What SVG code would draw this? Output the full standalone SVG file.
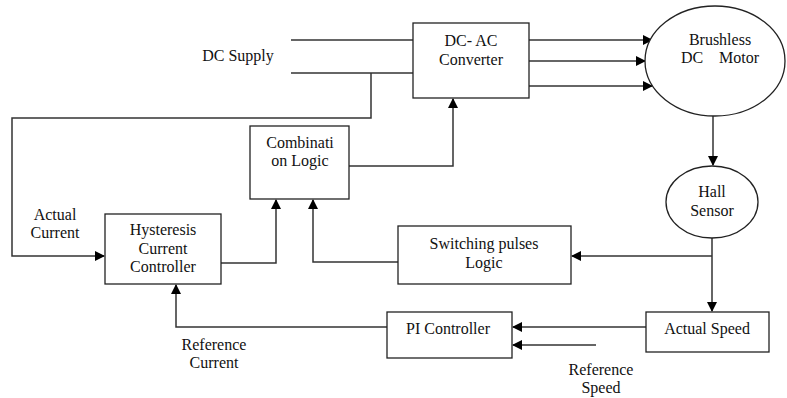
<svg xmlns="http://www.w3.org/2000/svg" width="787" height="398" viewBox="0 0 787 398">
<style>
.box{fill:#fff;stroke:#222;stroke-width:1.3}
.ln{fill:none;stroke:#333;stroke-width:1.5}
.t{font-family:'Liberation Serif','DejaVu Serif','Times New Roman',serif;font-size:16px;fill:#111;text-anchor:middle}
</style>
<defs>
<marker id="ah" markerWidth="10" markerHeight="10" refX="9" refY="5" orient="auto" markerUnits="userSpaceOnUse">
<path d="M0,0 L10,5 L0,10 Z" fill="#000"/>
</marker>
</defs>
<rect width="787" height="398" fill="#fff"/>
<g id="connectors">
<path class="ln" d="M291,40 H413"/>
<path class="ln" d="M291,73 H413"/>
<path class="ln" d="M371,73 V118 H12 V256 H104" marker-end="url(#ah)"/>
<path class="ln" d="M529,40 H652" marker-end="url(#ah)"/>
<path class="ln" d="M529,61 H645" marker-end="url(#ah)"/>
<path class="ln" d="M529,86 H652" marker-end="url(#ah)"/>
<path class="ln" d="M713,116 V165" marker-end="url(#ah)"/>
<path class="ln" d="M712,238 V311" marker-end="url(#ah)"/>
<path class="ln" d="M712,256 H572" marker-end="url(#ah)"/>
<path class="ln" d="M349,166 H453 V99" marker-end="url(#ah)"/>
<path class="ln" d="M221,263 H276 V200" marker-end="url(#ah)"/>
<path class="ln" d="M398,262 H313 V200" marker-end="url(#ah)"/>
<path class="ln" d="M646,327 H513" marker-end="url(#ah)"/>
<path class="ln" d="M596,345 H513" marker-end="url(#ah)"/>
<path class="ln" d="M387,327 H176 V285" marker-end="url(#ah)"/>
</g>
<g class="t">
<g id="dc-supply-label"><text x="238" y="61">DC Supply</text></g>
<g id="actual-current-label"><text x="55" y="220">Actual</text><text x="55" y="238">Current</text></g>
<g id="converter"><rect class="box" x="413" y="23" width="116" height="75"/><text x="471" y="46">DC- AC</text><text x="471" y="65">Converter</text></g>
<g id="motor"><ellipse class="box" cx="715" cy="61" rx="70" ry="55"/><text x="720" y="45">Brushless</text><text x="720" y="63" xml:space="preserve">DC    Motor</text></g>
<g id="hall"><ellipse class="box" cx="712" cy="202" rx="46" ry="36"/><text x="712" y="197">Hall</text><text x="712" y="216">Sensor</text></g>
<g id="combination"><rect class="box" x="250" y="126" width="99" height="73"/><text x="300" y="148">Combinati</text><text x="300" y="166">on Logic</text></g>
<g id="hysteresis"><rect class="box" x="105" y="214" width="116" height="70"/><text x="163" y="235">Hysteresis</text><text x="163" y="254">Current</text><text x="163" y="272">Controller</text></g>
<g id="switching"><rect class="box" x="398" y="226" width="173" height="58"/><text x="484" y="249">Switching pulses</text><text x="484" y="268">Logic</text></g>
<g id="pi"><rect class="box" x="387" y="312" width="125" height="46"/><text x="448" y="334">PI Controller</text></g>
<g id="actual-speed"><rect class="box" x="646" y="312" width="123" height="40"/><text x="707" y="334">Actual Speed</text></g>
<g id="ref-current-label"><text x="214" y="350">Reference</text><text x="214" y="368">Current</text></g>
<g id="ref-speed-label"><text x="601" y="375">Reference</text><text x="601" y="393">Speed</text></g>
</g>
</svg>
